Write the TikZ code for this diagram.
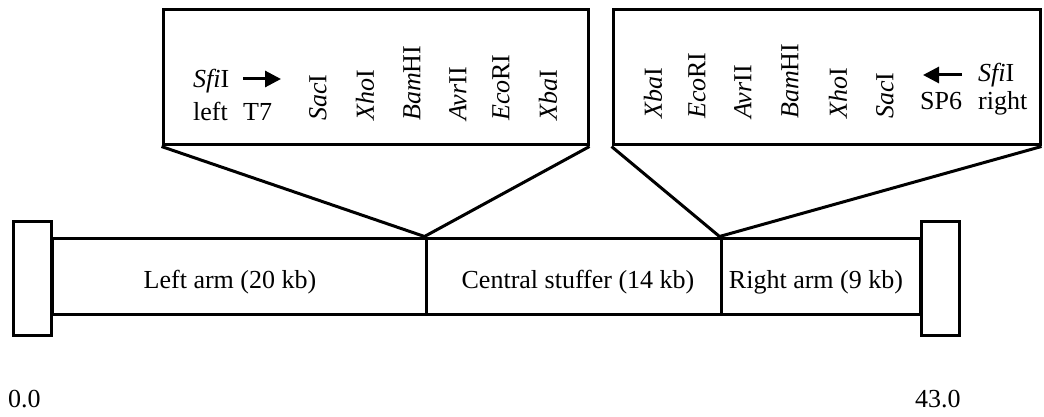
\documentclass[tikz,border=0pt]{standalone}
\usepackage{fontspec}
\setmainfont{Liberation Serif}
\usetikzlibrary{arrows.meta}
\begin{document}
\begin{tikzpicture}[x=1pt,y=-1pt,
  every node/.style={font=\fontsize{26}{29}\selectfont, inner sep=0pt},
  thickline/.style={line width=3pt},
  boxed/.style={draw, line width=3pt, rectangle},
  seg/.style={draw, line width=3pt, rectangle, minimum height=76pt},
  capbox/.style={draw, line width=3pt, rectangle, minimum width=38pt, minimum height=114pt},
  enz/.style={rotate=90, anchor=west},
  lab/.style={anchor=base west},
  bigarrow/.style={line width=3pt, -{Triangle[length=16pt,width=16pt]}}
]
\useasboundingbox (0,0) rectangle (1044,417);
% bar
\node[seg, minimum width=374pt] (larm) at (239,276) {};
\node[seg, minimum width=295pt] (cstuf) at (573.5,276) {};
\node[seg, minimum width=199pt] (rarm) at (820.5,276) {};
\node[capbox] (lcap) at (32.5,278.5) {};
\node[capbox] (rcap) at (940,278.5) {};
\node[anchor=base] (larmt) at (230,288) {Left arm (20 kb)};
\node[anchor=base] (cstuft) at (578,288) {Central stuffer (14 kb)};
\node[anchor=base] (rarmt) at (816,288) {Right arm (9 kb)};
\node[anchor=base west] (zero) at (8,407) {0.0};
\node[anchor=base west] (end) at (915,407) {43.0};
% junctions
\coordinate (j1) at (cstuf.north west);
\coordinate (j2) at (rarm.north west);
% boxes
\node[boxed, minimum width=425pt, minimum height=135pt] (lbox) at (375.5,77.5) {};
\node[boxed, minimum width=427pt, minimum height=135pt] (rbox) at (826.5,77.5) {};
\draw[thickline] (lbox.south west) -- (j1) -- (lbox.south east);
\draw[thickline] (rbox.south west) -- (j2) -- (rbox.south east);
% left box labels
\node[lab] (lsfi) at (193,88) {\textit{Sfi}I};
\node[lab] (lleft) at (193,121) {left};
\node[lab] (lt7) at (243,121) {T7};
\coordinate (la1) at (243,79);
\coordinate (la2) at (281,79);
\draw[bigarrow] (la1) -- (la2);
\node[enz] (lsac) at (318,121) {\textit{Sac}I};
\node[enz] (lxho) at (365,121) {\textit{Xho}I};
\node[enz] (lbam) at (412,121) {\textit{Bam}HI};
\node[enz] (lavr) at (458,121) {\textit{Avr}II};
\node[enz] (leco) at (501,121) {\textit{Eco}RI};
\node[enz] (lxba) at (548,121) {\textit{Xba}I};
% right box labels
\node[enz] (rxba) at (653,119) {\textit{Xba}I};
\node[enz] (reco) at (697,119) {\textit{Eco}RI};
\node[enz] (ravr) at (743,119) {\textit{Avr}II};
\node[enz] (rbam) at (790,119) {\textit{Bam}HI};
\node[enz] (rxho) at (838,119) {\textit{Xho}I};
\node[enz] (rsac) at (885,119) {\textit{Sac}I};
\coordinate (ra1) at (962,75);
\coordinate (ra2) at (923,75);
\draw[bigarrow] (ra1) -- (ra2);
\node[lab] (rsfi) at (978,82) {\textit{Sfi}I};
\node[lab] (rsp6) at (920,110) {SP6};
\node[lab] (rright) at (978,110) {right};
\end{tikzpicture}
\end{document}
